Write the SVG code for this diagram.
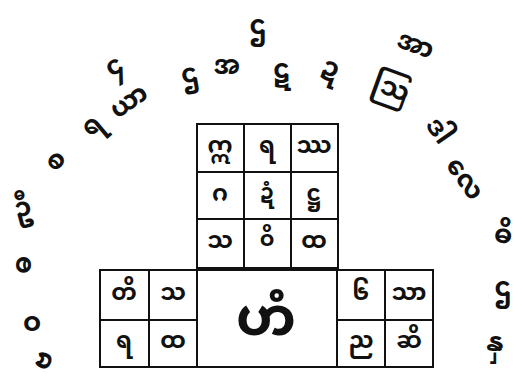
<svg xmlns="http://www.w3.org/2000/svg" width="523" height="381" viewBox="0 0 523 381">
<style>
.bg{fill:#ffffff}
.cell{fill:none;stroke:#111;stroke-width:2}
.t{font-family:"Noto Sans Myanmar","Padauk","Myanmar Text","Myanmar3","Noto Sans",sans-serif;font-size:23px;font-weight:bold;fill:#111;text-anchor:middle;dominant-baseline:central}
.a{font-size:26px}
.big{font-size:54px}
.m{font-size:21px}
</style>
<rect class="bg" x="0" y="0" width="523" height="381"/>
<g id="center-grid">
<rect class="cell" x="197" y="124" width="141" height="144"/>
<line class="cell" x1="244" y1="124" x2="244" y2="268"/>
<line class="cell" x1="291" y1="124" x2="291" y2="268"/>
<line class="cell" x1="197" y1="172" x2="338" y2="172"/>
<line class="cell" x1="197" y1="219" x2="338" y2="219"/>
<text class="t" x="220" y="148">ဣ</text>
<text class="t" x="267" y="148">ရ</text>
<text class="t" x="314" y="148">ဿ</text>
<text class="t" x="220" y="196">ဂ</text>
<text class="t m" x="267" y="194">ဍံ</text>
<text class="t" x="314" y="196">ဋ္ဌ</text>
<text class="t" x="220" y="243">သ</text>
<text class="t m" x="267" y="241">ဝိ</text>
<text class="t" x="314" y="243">ထ</text>
</g>
<g id="left-grid">
<rect class="cell" x="100" y="270" width="97" height="97"/>
<line class="cell" x1="149" y1="270" x2="149" y2="367"/>
<line class="cell" x1="100" y1="320" x2="197" y2="320"/>
<text class="t" x="124" y="295">တိ</text>
<text class="t" x="173" y="295">သ</text>
<text class="t" x="124" y="343">ရ</text>
<text class="t" x="173" y="343">ထ</text>
</g>
<g id="center-box">
<rect class="cell" x="197" y="270" width="140" height="97"/>
<text class="t big" x="266" y="322">ဟံ</text>
</g>
<g id="right-grid">
<rect class="cell" x="337" y="270" width="96" height="97"/>
<line class="cell" x1="385" y1="270" x2="385" y2="367"/>
<line class="cell" x1="337" y1="320" x2="433" y2="320"/>
<text class="t" x="361" y="295">၆</text>
<text class="t" x="409" y="295">သာ</text>
<text class="t" x="361" y="343">ည</text>
<text class="t" x="409" y="343">ဆိ</text>
</g>
<g id="arc">
<text class="t a" transform="translate(45,361) rotate(-70)">ဗ</text>
<text class="t a" transform="translate(32,325)">ဝ</text>
<text class="t a" transform="translate(25,265) rotate(-90)">ဓ</text>
<text class="t a" transform="translate(23,210) rotate(-15)">ဦ</text>
<text class="t a" transform="translate(57,162) rotate(-50)">စ</text>
<text class="t a" transform="translate(93,127) rotate(-40)">ရ</text>
<text class="t a" transform="translate(130,103) rotate(-35)">ယာ</text>
<text class="t a" transform="translate(115,68) rotate(-30)">၄</text>
<text class="t a" transform="translate(190,76) rotate(-10)">ဌ</text>
<text class="t a" transform="translate(227,68)">အ</text>
<text class="t a" transform="translate(282,72)">ဋ</text>
<text class="t a" transform="translate(330,70) rotate(20)">ဍ</text>
<text class="t a" transform="translate(258,28)">ဌ</text>
<text class="t a" transform="translate(390,90) rotate(20)">ဩ</text>
<text class="t a" transform="translate(415,47) rotate(20)">အာ</text>
<text class="t a" transform="translate(437,132) rotate(55)">ဒါ</text>
<text class="t a" transform="translate(463,180) rotate(55)">လေ</text>
<text class="t a" transform="translate(503,237) rotate(10)">ဓိ</text>
<text class="t a" transform="translate(503,290)">ဌ</text>
<text class="t a" transform="translate(495,345)">နှ</text>
</g>
</svg>
